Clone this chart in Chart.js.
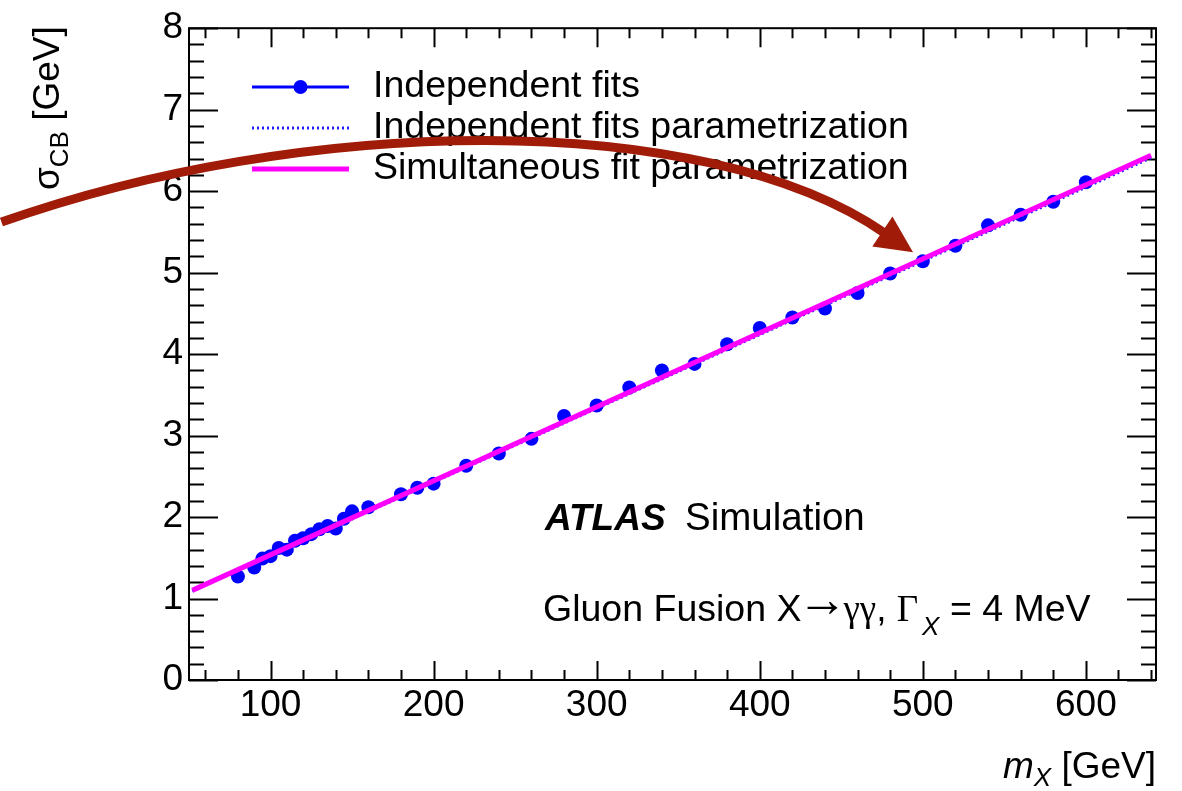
<!DOCTYPE html>
<html>
<head>
<meta charset="utf-8">
<script src="https://cdn.jsdelivr.net/npm/chart.js@4.4.0/dist/chart.umd.min.js"></script>
<style>
  html, body { margin:0; padding:0; background:#fff; }
  #wrap { width:1182px; height:791px; }
</style>
</head>
<body>
<div id="wrap"><canvas id="myChart" width="1182" height="791"></canvas></div>
<script>
// m_X [GeV] of the independent fits
var massPoints = [80, 90, 95, 100, 105, 110, 115, 120, 125, 130, 135, 140, 145, 150, 160,
    180, 190, 200, 220, 240, 260, 280, 300, 320, 340, 360, 380, 400, 420, 440, 460,
    480, 500, 520, 540, 560, 580, 600]
// sigma_CB [GeV]
var sigmaPoints = [1.27, 1.38, 1.49, 1.52, 1.62, 1.60, 1.71, 1.74, 1.79, 1.85, 1.89, 1.86, 1.98, 2.07, 2.12,
    2.28, 2.36, 2.41, 2.63, 2.78, 2.96, 3.24, 3.37, 3.59, 3.80, 3.88, 4.12, 4.32, 4.45, 4.56, 4.75,
    4.99, 5.14, 5.33, 5.58, 5.71, 5.87, 6.11]

// fit curves (end points)
var fitMass = [52, 640]
var indepFitSigma = [1.09, 6.41]
var simFitSigma = [1.10, 6.44]

var xTickValues = [100, 200, 300, 400, 500, 600]
var yTickValues = [0, 1, 2, 3, 4, 5, 6, 7, 8]

var seriesLabels = ["Independent fits", "Independent fits parametrization", "Simultaneous fit parametrization"]

// annotation arrow, in data coordinates
var arrowPath = { x: [-65, 118, 364, 477], y: [5.62, 6.92, 7.04, 5.48] }
var arrowTip = { x: 494, y: 5.25 }

var SANS = '"Liberation Sans", Arial, Helvetica, sans-serif'
var SERIF = '"Liberation Serif", "Times New Roman", serif'

function _map(arr, fn){ var out = []; for (var i = 0; i < arr.length; i++) out.push(fn(arr[i], i)); return out }
function toXY(xs, ys){
    return _map(xs, function(x, i){ return {x: x, y: ys[i]} })
}

// draw a list of text runs left to right, returns total width
function drawRuns(ctx, x, y, runs, measureOnly){
    var cx = x
    for (var i = 0; i < runs.length; i++){
        var r = runs[i]
        ctx.font = r.font
        if (!measureOnly) ctx.fillText(r.text, cx, y + (r.dy || 0))
        cx += ctx.measureText(r.text).width + (r.gap || 0)
    }
    return cx - x
}

var atlasPlugin = {
    id: "atlasDecor",
    beforeDatasetsDraw: function(chart){
        var ctx = chart.ctx
        var a = chart.chartArea
        var xs = chart.scales.x, ys = chart.scales.y
        ctx.save()
        ctx.strokeStyle = "#000"
        ctx.lineWidth = 2
        ctx.beginPath()
        // x ticks, bottom and top
        for (var v = 60; v <= xs.max; v += 20){
            var px = Math.round(xs.getPixelForValue(v)) + 0.5
            var len = (v % 100 === 0) ? 19 : 10
            ctx.moveTo(px, a.bottom); ctx.lineTo(px, a.bottom - len)
            ctx.moveTo(px, a.top); ctx.lineTo(px, a.top + len)
        }
        // y ticks, left and right
        for (var k = 0; k <= 40; k++){
            var py = Math.round(ys.getPixelForValue(k * 0.2)) + 0.5
            var ylen = (k % 5 === 0) ? 29 : 15
            ctx.moveTo(a.left, py); ctx.lineTo(a.left + ylen, py)
            ctx.moveTo(a.right, py); ctx.lineTo(a.right - ylen, py)
        }
        ctx.stroke()
        ctx.strokeRect(a.left, a.top, a.right - a.left, a.bottom - a.top)
        ctx.restore()
    },
    afterDraw: function(chart){
        var ctx = chart.ctx
        var a = chart.chartArea
        var xs = chart.scales.x, ys = chart.scales.y
        var ds = chart.data.datasets
        ctx.save()
        ctx.fillStyle = "#000"
        ctx.textBaseline = "alphabetic"
        ctx.textAlign = "left"

        // legend
        var lx0 = 252, lx1 = 349, tx = 373
        var rows = [97, 138, 179]
        for (var i = 0; i < ds.length; i++){
            var d = ds[i]
            var ly = rows[i] - 10
            ctx.save()
            ctx.strokeStyle = d.legendColor
            ctx.lineWidth = d.legendWidth
            ctx.setLineDash(d.borderDash || [])
            ctx.beginPath(); ctx.moveTo(lx0, ly); ctx.lineTo(lx1, ly); ctx.stroke()
            if (d.showDot){
                ctx.fillStyle = d.backgroundColor
                ctx.beginPath(); ctx.arc((lx0 + lx1) / 2, ly, 7, 0, Math.PI * 2); ctx.fill()
            }
            ctx.restore()
            ctx.font = "37.5px " + SANS
            ctx.fillText(d.label, tx, rows[i])
        }

        // ATLAS label
        ctx.font = "italic bold 37px " + SANS
        ctx.fillText("ATLAS", 545, 530)
        ctx.font = "38.5px " + SANS
        ctx.fillText("Simulation", 685, 530)

        drawRuns(ctx, 543, 621, [
            {text: "Gluon Fusion X", font: "37.5px " + SANS, gap: -4},
            {text: "\u2192", font: "50px " + SERIF, dy: -5, gap: -4},
            {text: "\u03b3\u03b3", font: "37px " + SERIF},
            {text: ", ", font: "37px " + SANS},
            {text: "\u0393", font: "37px " + SERIF, gap: 4},
            {text: "X", font: "italic 26px " + SANS, dy: 14},
            {text: " = 4 MeV", font: "37.5px " + SANS}
        ])

        // x title, right aligned at frame edge
        var xRuns = [
            {text: "m", font: "italic 37px " + SANS},
            {text: "X", font: "italic 26px " + SANS, dy: 8},
            {text: " [GeV]", font: "37px " + SANS}
        ]
        var w = drawRuns(ctx, 0, 0, xRuns, true)
        drawRuns(ctx, a.right - w, 778, xRuns)

        // y title, rotated, top aligned at frame top
        var yRuns = [
            {text: "\u03c3", font: "37px " + SANS},
            {text: "CB", font: "26px " + SANS, dy: 9},
            {text: " [GeV]", font: "37px " + SANS}
        ]
        var wy = drawRuns(ctx, 0, 0, yRuns, true)
        ctx.save()
        ctx.translate(59, a.top - 2 + wy)
        ctx.rotate(-Math.PI / 2)
        drawRuns(ctx, 0, 0, yRuns)
        ctx.restore()

        // red arrow
        var p = _map(arrowPath.x, function(x, i){
            return {x: xs.getPixelForValue(x), y: ys.getPixelForValue(arrowPath.y[i])}
        })
        var tip = {x: xs.getPixelForValue(arrowTip.x), y: ys.getPixelForValue(arrowTip.y)}
        ctx.strokeStyle = "#a01c08"
        ctx.fillStyle = "#a01c08"
        ctx.lineWidth = 9
        ctx.beginPath()
        ctx.moveTo(p[0].x, p[0].y)
        ctx.bezierCurveTo(p[1].x, p[1].y, p[2].x, p[2].y, p[3].x, p[3].y)
        ctx.stroke()
        var dx = tip.x - p[3].x, dy = tip.y - p[3].y
        var dl = Math.sqrt(dx * dx + dy * dy)
        dx /= dl; dy /= dl
        var bx = tip.x - dx * 37, by = tip.y - dy * 37
        ctx.beginPath()
        ctx.moveTo(tip.x, tip.y)
        ctx.lineTo(bx - dy * 18, by + dx * 18)
        ctx.lineTo(bx + dy * 18, by - dx * 18)
        ctx.closePath()
        ctx.fill()
        ctx.restore()
    }
}

var tickFont = {family: SANS, size: 37}

var ctx = document.getElementById("myChart").getContext("2d")
var chart = new Chart(ctx, {
    type: "scatter",
    data: {
        datasets: [
            {
                label: seriesLabels[0],
                data: toXY(massPoints, sigmaPoints),
                backgroundColor: "#0000ff",
                borderColor: "#0000ff",
                pointRadius: 7,
                pointBorderWidth: 0,
                showLine: false,
                showDot: true,
                legendColor: "#0000ff",
                legendWidth: 3,
                order: 3
            },
            {
                label: seriesLabels[1],
                data: toXY(fitMass, indepFitSigma),
                borderColor: "#2020ff",
                borderWidth: 3,
                borderDash: [2, 3],
                pointRadius: 0,
                showLine: true,
                legendColor: "#2020ff",
                legendWidth: 3,
                order: 2
            },
            {
                label: seriesLabels[2],
                data: toXY(fitMass, simFitSigma),
                borderColor: "#ff00ff",
                borderWidth: 5,
                pointRadius: 0,
                showLine: true,
                legendColor: "#ff00ff",
                legendWidth: 5,
                order: 1
            }
        ]
    },
    options: {
        responsive: false,
        animation: false,
        events: [],
        layout: {padding: {top: 27, right: 26, left: 0, bottom: 0}},
        plugins: {legend: {display: false}, tooltip: {enabled: false}},
        scales: {
            x: {
                type: "linear", min: 50, max: 643,
                grid: {display: false, drawTicks: false},
                border: {display: false},
                afterBuildTicks: function(s){ s.ticks = _map(xTickValues, function(v){ return {value: v} }) },
                afterFit: function(s){ s.height = 111 },
                ticks: {font: tickFont, color: "#000", padding: 4, maxRotation: 0, autoSkip: false}
            },
            y: {
                type: "linear", min: 0, max: 8,
                grid: {display: false, drawTicks: false},
                border: {display: false},
                afterBuildTicks: function(s){ s.ticks = _map(yTickValues, function(v){ return {value: v} }) },
                afterFit: function(s){ s.width = 189 },
                ticks: {font: tickFont, color: "#000", padding: 6, autoSkip: false}
            }
        }
    },
    plugins: [atlasPlugin]
})
</script>
</body>
</html>
